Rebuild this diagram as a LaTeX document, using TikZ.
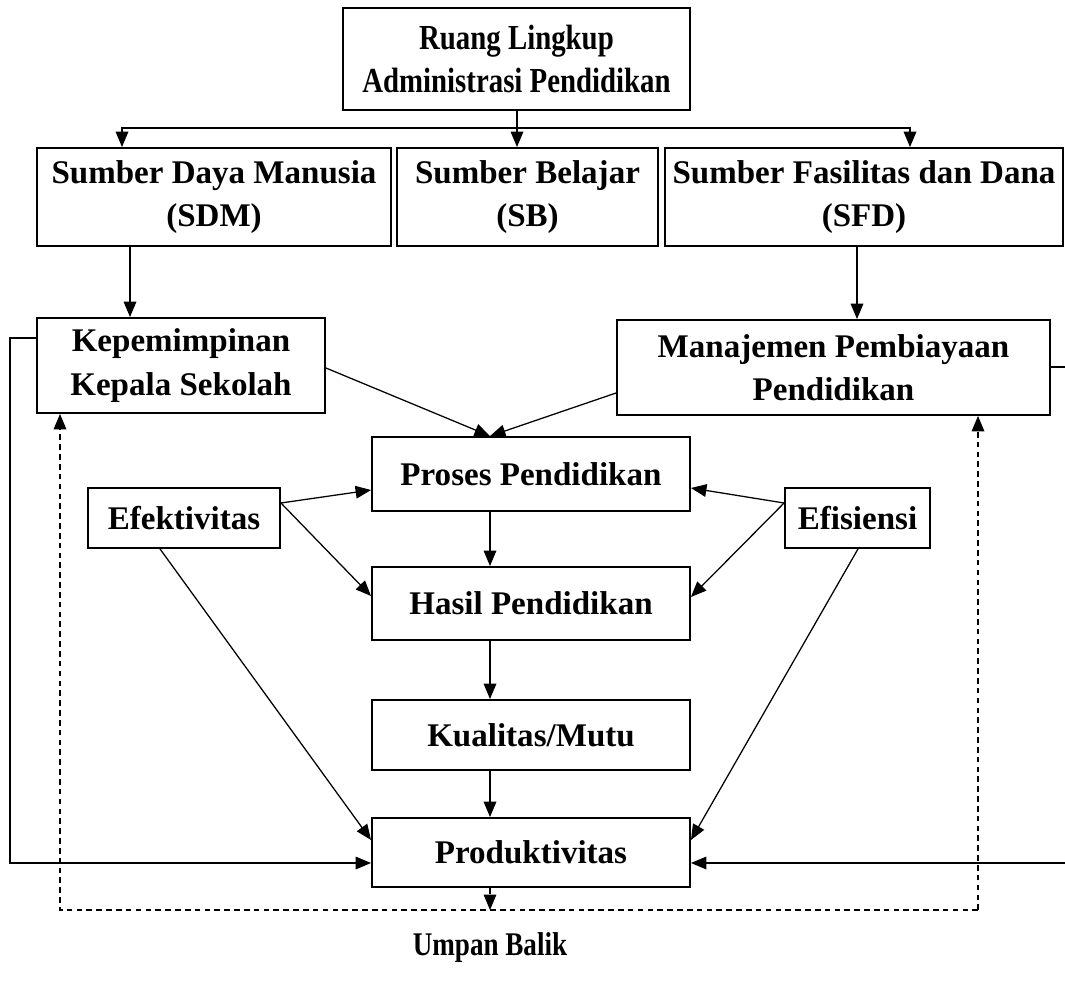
\documentclass[tikz,border=0pt]{standalone}
\usepackage{fontspec}
\setmainfont{Liberation Serif}
\newfontfamily\narrowserif[FakeStretch=0.82]{Liberation Serif}
\usetikzlibrary{arrows.meta, calc}

\begin{document}
\begin{tikzpicture}[x=0.025cm, y=-0.025cm,
  box/.style={draw, line width=1.3pt, align=center, inner sep=0pt,
    font=\bfseries\fontsize{23.5}{31}\selectfont},
  narrowbox/.style={box, font=\narrowserif\bfseries\fontsize{25}{31}\selectfont},
  arr/.style={-{Triangle[length=11pt, width=9pt]}, line width=0.9pt},
  feed/.style={arr, dash pattern=on 4pt off 3pt}]
\useasboundingbox (0,0) rectangle (1065,985);
% boxes
\node[narrowbox, minimum width=8.675cm, minimum height=2.55cm] (ruang) at (516.5,59) {Ruang Lingkup\\Administrasi Pendidikan};
\node[box, minimum width=8.85cm, minimum height=2.45cm] (sdm) at (214,197) {Sumber Daya Manusia\\(SDM)};
\node[box, minimum width=6.525cm, minimum height=2.45cm] (sb) at (527.5,197) {Sumber Belajar\\(SB)};
\node[box, minimum width=9.95cm, minimum height=2.45cm] (sfd) at (864,197) {Sumber Fasilitas dan Dana\\(SFD)};
\node[box, minimum width=7.2cm, minimum height=2.375cm] (kepala) at (181,365.5) {Kepemimpinan\\Kepala Sekolah};
\node[box, minimum width=10.825cm, minimum height=2.375cm] (biaya) at (833.5,367.5) {Manajemen Pembiayaan\\Pendidikan};
\node[box, minimum width=7.95cm, minimum height=1.85cm] (proses) at (531,474) {Proses Pendidikan};
\node[box, minimum width=4.8cm, minimum height=1.5cm] (efek) at (184,518) {Efektivitas};
\node[box, minimum width=3.625cm, minimum height=1.5cm] (efis) at (857.5,518) {Efisiensi};
\node[box, minimum width=7.95cm, minimum height=1.825cm] (hasil) at (531,603.5) {Hasil Pendidikan};
\node[box, minimum width=7.95cm, minimum height=1.75cm] (mutu) at (531,735) {Kualitas/Mutu};
\node[box, minimum width=7.95cm, minimum height=1.725cm] (produk) at (531,852.5) {Produktivitas};
\node[font=\narrowserif\bfseries\fontsize{23.5}{31}\selectfont] (umpan) at (490,948) {Umpan Balik};
% top branching
\coordinate (split) at (517,128);
\draw[line width=0.9pt] (ruang.south -| split) -- (split);
\draw[arr] (split) -- (split |- sb.north);
\draw[arr] (split) -| (122,0 |- sdm.north);
\draw[arr] (split) -| (910,0 |- sfd.north);
\draw[arr] (130,0 |- sdm.south) -- (130,0 |- kepala.north);
\draw[arr] (857,0 |- sfd.south) -- (857,0 |- biaya.north);
% towards the process
\coordinate (meet) at (490,0 |- proses.north);
\draw[arr] (kepala.east |- 0,368) -- (meet);
\draw[arr] (biaya.west |- 0,393) -- (meet);
\draw[arr] (490,0 |- proses.south) -- (490,0 |- hasil.north);
\draw[arr] (490,0 |- hasil.south) -- (490,0 |- mutu.north);
\draw[arr] (490,0 |- mutu.south) -- (490,0 |- produk.north);
% efektivitas and efisiensi
\coordinate (efekout) at (efek.east |- 0,503);
\coordinate (efisout) at (efis.west |- 0,503);
\draw[arr] (efekout) -- (proses.west |- 0,490);
\draw[arr] (efekout) -- (hasil.west |- 0,596);
\draw[arr] (efisout) -- (proses.east |- 0,488);
\draw[arr] (efisout) -- (hasil.east |- 0,597);
\draw[arr] (160,0 |- efek.south) -- (produk.west |- 0,840);
\draw[arr] (858,0 |- efis.south) -- (produk.east |- 0,840);
% solid loops
\draw[arr] (kepala.west |- 0,338) -- (10,338) |- (produk.west |- 0,863);
\draw[arr] (biaya.east |- 0,367) -- (1075,367) |- (produk.east |- 0,863);
% umpan balik
\coordinate (fbl) at (60,910);
\coordinate (fbr) at (978,910);
\draw[feed] (490,0 |- produk.south) -- (490,910);
\draw[feed] (fbr) -- (fbl) -- (fbl |- kepala.south);
\draw[feed] (fbr) -- (fbr |- biaya.south);
\end{tikzpicture}
\end{document}
